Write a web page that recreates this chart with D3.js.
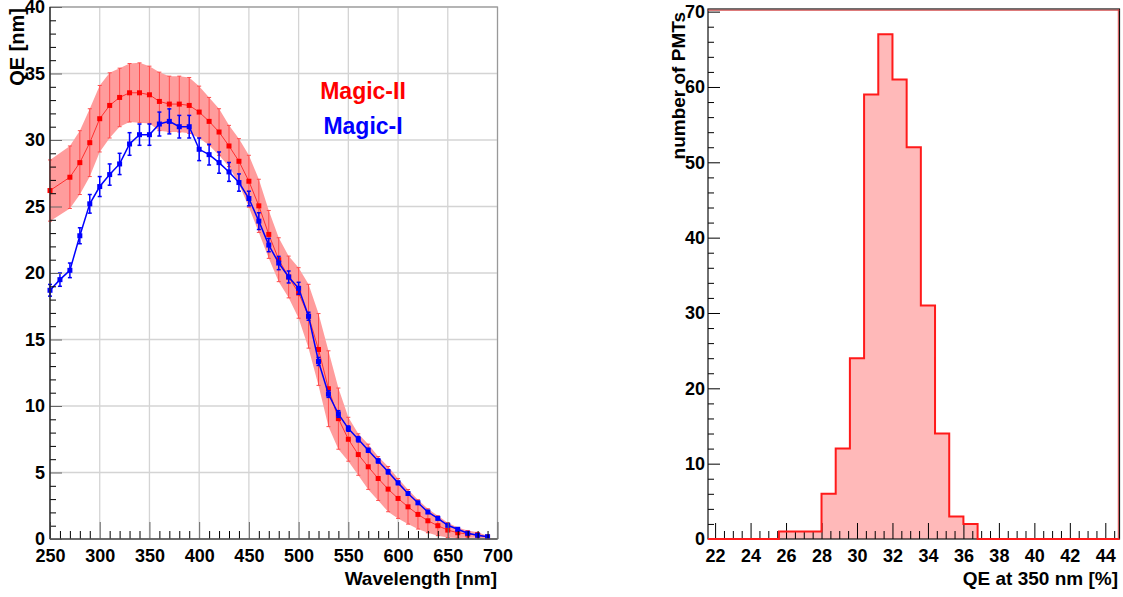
<!DOCTYPE html>
<html>
<head>
<meta charset="utf-8">
<script src="https://cdn.jsdelivr.net/npm/d3@7"></script>
<style>
body { margin: 0; background: #fff; }
svg text { font-family: "Liberation Sans", Arial, sans-serif; font-weight: bold; }
</style>
</head>
<body>
<svg id="chart" width="1123" height="597"></svg>
<script>
// Magic-II (red band) and Magic-I (blue) QE curves
var wavelengthsII = [250,270,280,290,300,310,320,330,340,350,360,370,380,390,400,410,420,430,440,450,460,470,480,490,500,510,520,530,540,550,560,570,580,590,600,610,620,630,640,650,660,670,680,690];
var qeII = [26.2,27.2,28.3,29.8,31.6,32.6,33.2,33.55,33.55,33.4,32.9,32.7,32.7,32.6,32.1,31.4,30.6,29.55,28.4,26.9,25.05,22.9,21.0,19.7,18.5,16.75,14.25,11.3,9.05,7.5,6.35,5.43,4.55,3.75,3.05,2.42,1.85,1.37,1.0,0.67,0.47,0.37,0.3,0.15];
var errII = [2.3,2.35,2.4,2.55,2.5,2.45,2.2,2.2,2.25,2.15,2.2,2.1,2.1,2.1,1.95,1.8,1.75,1.55,1.7,1.95,2.0,1.8,1.65,1.57,1.9,2.4,2.7,2.85,2.3,1.65,1.56,1.7,1.65,1.7,1.5,1.3,1.1,0.9,0.75,0.56,0.4,0.27,0.2,0.1];

var wavelengthsI = [250,260,270,280,290,300,310,320,330,340,350,360,370,380,390,400,410,420,430,440,450,460,470,480,490,500,510,520,530,540,550,560,570,580,590,600,610,620,630,640,650,660,670,680,690];
var qeI = [18.7,19.5,20.2,22.8,25.2,26.5,27.4,28.2,29.7,30.4,30.4,31.2,31.4,31.0,31.0,29.3,28.9,28.3,27.6,26.8,25.6,23.9,22.1,20.75,19.7,18.85,16.75,13.35,10.9,9.4,8.3,7.5,6.67,5.87,5.05,4.22,3.42,2.72,2.03,1.55,1.03,0.73,0.43,0.28,0.17];
var errI = [0.44,0.5,0.55,0.6,0.7,0.75,0.8,0.8,0.85,0.8,0.8,0.9,0.94,0.85,0.85,0.85,0.78,0.8,0.71,0.65,0.55,0.63,0.5,0.5,0.45,0.45,0.3,0.3,0.25,0.25,0.2,0.2,0.15,0.15,0.15,0.12,0.12,0.1,0.1,0.1,0.08,0.08,0.06,0.05,0.05];

// histogram of QE at 350 nm
var binLow = [21.6,22.4,23.2,24.0,24.8,25.6,26.4,27.2,28.0,28.8,29.6,30.4,31.2,32.0,32.8,33.6,34.4,35.2,36.0,36.8,37.6,38.4,39.2,40.0,40.8,41.6,42.4,43.2,44.0];
var binWidth = 0.8;
var pmtCounts = [0,0,0,0,0,1,1,1,6,12,24,59,67,61,52,31,14,3,2,0,0,0,0,0,0,0,0,0,0];

var wlTicks = [250,300,350,400,450,500,550,600,650,700];
var qeTicks = [0,5,10,15,20,25,30,35,40];
var histXTicks = [22,24,26,28,30,32,34,36,38,40,42,44];
var histYTicks = [0,10,20,30,40,50,60,70];

var svg = d3.select("#chart");

// ---------- left pad ----------
var x = d3.scaleLinear().domain([250, 700]).range([50, 497.5]);
var y = d3.scaleLinear().domain([0, 40]).range([539, 7]);
var left = svg.append("g");

// grid
left.append("g").selectAll("line").data(wlTicks).enter().append("line")
  .attr("x1", function(d) { return x(d); }).attr("x2", function(d) { return x(d); })
  .attr("y1", y(0)).attr("y2", y(40))
  .attr("stroke", "#d4d4d4").attr("stroke-width", 1.3);
left.append("g").selectAll("line").data(qeTicks).enter().append("line")
  .attr("x1", x(250)).attr("x2", x(700))
  .attr("y1", function(d) { return y(d); }).attr("y2", function(d) { return y(d); })
  .attr("stroke", "#d4d4d4").attr("stroke-width", 1.3);

// frame
left.append("rect").attr("x", x(250)).attr("y", y(40))
  .attr("width", x(700) - x(250)).attr("height", y(0) - y(40))
  .attr("fill", "none").attr("stroke", "#999").attr("stroke-width", 1.2);

// band for Magic-II
var pairsII = wavelengthsII.map(function(w, i) { return { w: w, v: qeII[i], e: errII[i] }; });
var band = d3.area()
  .x(function(d) { return x(d.w); })
  .y0(function(d) { return y(d.v - d.e); })
  .y1(function(d) { return y(d.v + d.e); });
left.append("path").attr("d", band(pairsII)).attr("fill", "#ff9c9c").attr("stroke", "none");

// red error bars
var eb = left.append("g").attr("stroke", "#ff4d4d").attr("stroke-width", 1);
pairsII.forEach(function(d) {
  eb.append("line").attr("x1", x(d.w)).attr("x2", x(d.w)).attr("y1", y(d.v - d.e)).attr("y2", y(d.v + d.e));
  eb.append("line").attr("x1", x(d.w) - 2).attr("x2", x(d.w) + 2).attr("y1", y(d.v - d.e)).attr("y2", y(d.v - d.e));
  eb.append("line").attr("x1", x(d.w) - 2).attr("x2", x(d.w) + 2).attr("y1", y(d.v + d.e)).attr("y2", y(d.v + d.e));
});
var line = d3.line().x(function(d) { return x(d.w); }).y(function(d) { return y(d.v); });
left.append("path").attr("d", line(pairsII)).attr("fill", "none").attr("stroke", "#ff3030").attr("stroke-width", 1);
left.append("g").selectAll("rect").data(pairsII).enter().append("rect")
  .attr("x", function(d) { return x(d.w) - 2.5; }).attr("y", function(d) { return y(d.v) - 2.5; })
  .attr("width", 5).attr("height", 5).attr("fill", "#ff0000");

// Magic-I
var pairsI = wavelengthsI.map(function(w, i) { return { w: w, v: qeI[i], e: errI[i] }; });
var ebI = left.append("g").attr("stroke", "#0000ff").attr("stroke-width", 1.5);
pairsI.forEach(function(d) {
  ebI.append("line").attr("x1", x(d.w)).attr("x2", x(d.w)).attr("y1", y(d.v - d.e)).attr("y2", y(d.v + d.e));
  ebI.append("line").attr("x1", x(d.w) - 2).attr("x2", x(d.w) + 2).attr("y1", y(d.v - d.e)).attr("y2", y(d.v - d.e));
  ebI.append("line").attr("x1", x(d.w) - 2).attr("x2", x(d.w) + 2).attr("y1", y(d.v + d.e)).attr("y2", y(d.v + d.e));
});
left.append("path").attr("d", line(pairsI)).attr("fill", "none").attr("stroke", "#0000ff").attr("stroke-width", 1.5);
left.append("g").selectAll("rect").data(pairsI).enter().append("rect")
  .attr("x", function(d) { return x(d.w) - 2.5; }).attr("y", function(d) { return y(d.v) - 2.5; })
  .attr("width", 5).attr("height", 5).attr("fill", "#0000ff");

// axes
var styleAxis = function(g, color, pad) {
  g.select(".domain").remove();
  g.selectAll(".tick line").attr("stroke", color);
  g.selectAll("text").attr("fill", "#000").style("font-size", "18px");
};
var leftY = left.append("g").attr("transform", "translate(" + x(250) + ",0)")
  .call(d3.axisLeft(y).tickValues(d3.range(0, 41, 1).filter(function(v) { return v % 5; })).tickSizeInner(-6).tickSizeOuter(0).tickFormat(""));
styleAxis(leftY, "#000");
var leftYMajor = left.append("g").attr("transform", "translate(" + x(250) + ",0)")
  .call(d3.axisLeft(y).tickValues(qeTicks).tickSizeInner(-12).tickSizeOuter(0).tickPadding(5));
styleAxis(leftYMajor, "#666");
var leftX = left.append("g").attr("transform", "translate(0," + y(0) + ")")
  .call(d3.axisBottom(x).tickValues(d3.range(250, 701, 10).filter(function(v) { return v % 50; })).tickSizeInner(-8).tickSizeOuter(0).tickFormat(""));
styleAxis(leftX, "#000");
var leftXMajor = left.append("g").attr("transform", "translate(0," + y(0) + ")")
  .call(d3.axisBottom(x).tickValues(wlTicks).tickSizeInner(-17).tickSizeOuter(0).tickPadding(10));
styleAxis(leftXMajor, "#666");
left.append("line").attr("x1", x(250)).attr("x2", x(250)).attr("y1", y(0)).attr("y2", y(40)).attr("stroke", "#222").attr("stroke-width", 1.3);
left.append("line").attr("x1", x(250)).attr("x2", x(700)).attr("y1", y(0)).attr("y2", y(0)).attr("stroke", "#555").attr("stroke-width", 1.3);

left.append("text").attr("transform", "translate(24,8) rotate(-90)")
  .attr("text-anchor", "end").style("font-size", "20px").text("QE [nm]");
left.append("text").attr("x", 497).attr("y", 585)
  .attr("text-anchor", "end").style("font-size", "19px").text("Wavelength [nm]");
left.append("text").attr("x", 363).attr("y", 99).attr("text-anchor", "middle")
  .attr("fill", "#ff0000").style("font-size", "23px").text("Magic-II");
left.append("text").attr("x", 363).attr("y", 134).attr("text-anchor", "middle")
  .attr("fill", "#0000ff").style("font-size", "23px").text("Magic-I");

// ---------- right pad ----------
var hx = d3.scaleLinear().domain([21.6, 44.8]).range([708, 1119.5]);
var hy = d3.scaleLinear().domain([0, 70.35]).range([539, 9]);
var right = svg.append("g");

var step = [[hx(binLow[0]), hy(0)]];
binLow.forEach(function(lo, i) {
  step.push([hx(lo), hy(pmtCounts[i])]);
  step.push([hx(lo + binWidth), hy(pmtCounts[i])]);
});
step.push([hx(binLow[binLow.length - 1] + binWidth), hy(0)]);
right.append("path").attr("d", d3.line()(step) + "Z").attr("fill", "#ffb9b9").attr("stroke", "none");

var rYMinor = right.append("g").attr("transform", "translate(" + hx(21.6) + ",0)")
  .call(d3.axisLeft(hy).tickValues(d3.range(0, 71, 2).filter(function(v) { return v % 10; })).tickSizeInner(-6).tickSizeOuter(0).tickFormat(""));
styleAxis(rYMinor, "#000");
var rY = right.append("g").attr("transform", "translate(" + hx(21.6) + ",0)")
  .call(d3.axisLeft(hy).tickValues(histYTicks).tickSizeInner(-12).tickSizeOuter(0).tickPadding(3));
styleAxis(rY, "#000");
var rXMinor = right.append("g").attr("transform", "translate(0," + hy(0) + ")")
  .call(d3.axisBottom(hx).tickValues(d3.range(22, 44.6, 0.5).filter(function(v) { return v % 2; })).tickSizeInner(-8).tickSizeOuter(0).tickFormat(""));
styleAxis(rXMinor, "#000");
var rX = right.append("g").attr("transform", "translate(0," + hy(0) + ")")
  .call(d3.axisBottom(hx).tickValues(histXTicks).tickSizeInner(-16).tickSizeOuter(0).tickPadding(10));
styleAxis(rX, "#000");

right.append("rect").attr("x", hx(21.6)).attr("y", hy(70.35))
  .attr("width", hx(44.8) - hx(21.6)).attr("height", hy(0) - hy(70.35))
  .attr("fill", "none").attr("stroke", "#111").attr("stroke-width", 1.2);
right.append("path").attr("d", d3.line()(step.slice(1, step.length - 1)))
  .attr("fill", "none").attr("stroke", "#ff1a1a").attr("stroke-width", 2);
right.append("line").attr("x1", hx(21.6)).attr("x2", hx(44.8)).attr("y1", hy(70.35) + 1.2).attr("y2", hy(70.35) + 1.2)
  .attr("stroke", "#d04040").attr("stroke-width", 1);
right.append("line").attr("x1", hx(44.8) - 1.2).attr("x2", hx(44.8) - 1.2).attr("y1", hy(70.35)).attr("y2", hy(0))
  .attr("stroke", "#d04040").attr("stroke-width", 1);

right.append("text").attr("transform", "translate(685,12) rotate(-90)")
  .attr("text-anchor", "end").style("font-size", "19px").text("number of PMTs");
right.append("text").attr("x", 1118).attr("y", 585)
  .attr("text-anchor", "end").style("font-size", "19px").text("QE at 350 nm [%]");
</script>
</body>
</html>
